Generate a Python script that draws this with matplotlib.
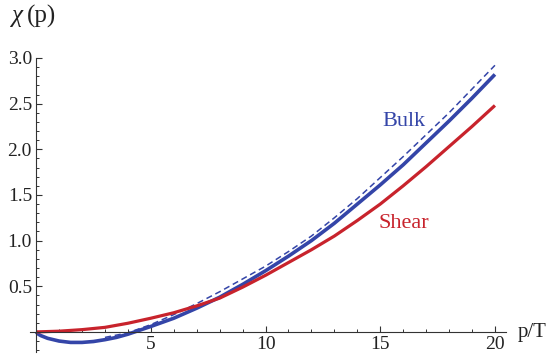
import numpy as np
import matplotlib.pyplot as plt
from matplotlib.ticker import MultipleLocator, FixedLocator

plt.rcParams['font.family'] = ['Liberation Serif', 'DejaVu Serif']

# values
p_bulk = [0, 0.1, 0.2, 0.5, 1, 1.5, 2, 2.5, 3, 3.5, 4, 5, 6, 7, 8, 9, 10,
          11, 12, 13, 14, 15, 16, 17, 18, 19, 20]
bulk = [0, -0.025, -0.04, -0.07, -0.10, -0.115, -0.115, -0.105, -0.085, -0.06, -0.025,
        0.06, 0.15, 0.26, 0.38, 0.52, 0.67, 0.83, 1.00, 1.19, 1.40, 1.61, 1.83,
        2.07, 2.31, 2.56, 2.82]

p_shear = [0, 1, 2, 3, 4, 5, 6, 7, 8, 9, 10, 11, 12, 13, 14, 15, 16, 17, 18, 19, 20]
shear = [0, 0.008, 0.025, 0.05, 0.095, 0.15, 0.21, 0.285, 0.37, 0.49, 0.62, 0.76,
         0.90, 1.05, 1.22, 1.40, 1.60, 1.81, 2.03, 2.25, 2.48]

p_asym = [3, 4, 5, 6, 7, 8, 9, 10, 11, 12, 13, 14, 15, 16, 17, 18, 19, 20]
asym = [-0.06, -0.01, 0.08, 0.19, 0.31, 0.44, 0.58, 0.72, 0.88, 1.05, 1.25, 1.46,
        1.69, 1.92, 2.16, 2.40, 2.66, 2.92]

xticks = [5, 10, 15, 20]
yticks = [0.5, 1.0, 1.5, 2.0, 2.5, 3.0]

blue = '#3445a8'
red = '#c8232c'
axcol = '#333333'

fig = plt.figure(figsize=(5.48, 3.6), dpi=100)
ax = fig.add_axes([0.0555, 0.0222, 0.8686, 0.8167])

ax.plot(p_asym, asym, color=blue, lw=1.1, linestyle=(0, (4, 2.5)))
ax.plot(p_bulk, bulk, color=blue, lw=2.6, solid_capstyle='butt')
ax.plot(p_shear, shear, color=red, lw=2.3, solid_capstyle='butt')

ax.set_xlim(-0.25, 20.5)
ax.set_ylim(-0.22, 3.0)

for s in ['top', 'right']:
    ax.spines[s].set_visible(False)
ax.spines['left'].set_position(('data', 0))
ax.spines['bottom'].set_position(('data', 0))
for s in ['left', 'bottom']:
    ax.spines[s].set_color(axcol)
    ax.spines[s].set_linewidth(0.8)

ax.xaxis.set_major_locator(FixedLocator(xticks))
ax.yaxis.set_major_locator(FixedLocator(yticks))
ax.xaxis.set_minor_locator(MultipleLocator(1))
ax.yaxis.set_minor_locator(MultipleLocator(0.1))
ax.set_xticklabels([str(v) for v in xticks])
ax.set_yticklabels(['%.1f' % v for v in yticks])
ax.tick_params(which='major', direction='in', length=4.5, width=0.8, color=axcol,
               labelsize=14, labelcolor='#222222')
ax.tick_params(which='minor', direction='in', length=2.5, width=0.7, color=axcol)
ax.tick_params(axis='y', pad=3)
ax.tick_params(axis='x', pad=3)

ax.text(16.04, 2.256, 'Bulk', color=blue, fontsize=16, ha='center', va='baseline')
ax.text(16.04, 1.14, 'Shear', color=red, fontsize=16, ha='center', va='baseline')

# axis labels, chi in italic like the original
fig.text(12 / 548, 1 - 16 / 360, 'χ', fontsize=18, style='italic', ha='left', va='center',
         color='#222222')
fig.text(27 / 548, 1 - 16 / 360, '(p)', fontsize=18, ha='left', va='center', color='#222222')
fig.text(518 / 548, 1 - 332 / 360, 'p/T', fontsize=15, ha='left', va='center', color='#222222')

fig.savefig('out.png', dpi=100)
